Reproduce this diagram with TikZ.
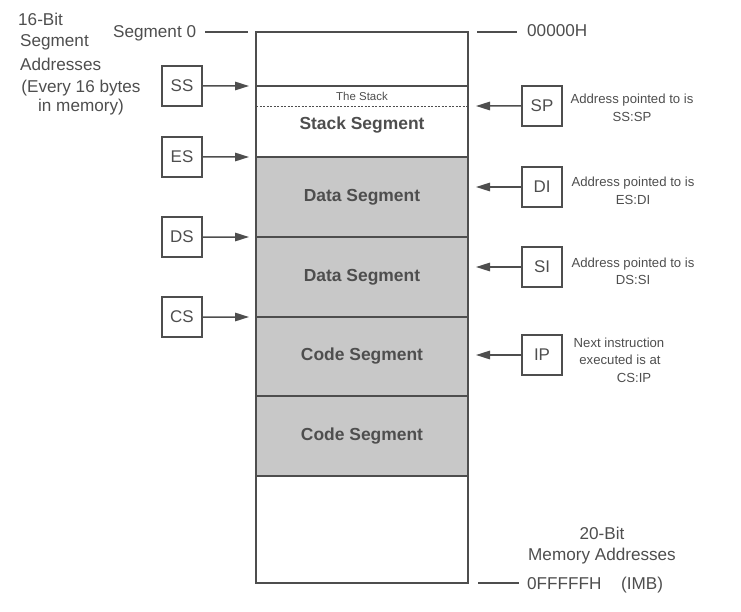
\documentclass[tikz,border=0pt]{standalone}
\usepackage{fontspec}
\setmainfont{Liberation Sans}
\usetikzlibrary{arrows.meta,calc}
\definecolor{ink}{RGB}{78,78,78}
\definecolor{segfill}{RGB}{200,200,200}
\begin{document}
\begin{tikzpicture}[x=1bp,y=-1bp,
  every node/.style={text=ink},
  seg/.style={draw=ink, line width=1.5bp, minimum width=212bp, inner sep=0pt, outer sep=0pt, font=\fontsize{17.5}{19}\selectfont\bfseries},
  gseg/.style={seg, fill=segfill},
  reg/.style={draw=ink, line width=1.4bp, minimum width=40bp, minimum height=40bp, inner sep=0pt, outer sep=0pt, font=\fontsize{17}{19}\selectfont},
  lbl/.style={inner sep=0pt, font=\fontsize{17.2}{19}\selectfont, anchor=base west},
  clbl/.style={inner sep=0pt, font=\fontsize{17.2}{19}\selectfont, anchor=base},
  note/.style={inner sep=0pt, font=\fontsize{13.2}{15}\selectfont, anchor=base},
  arr/.style={draw=ink, line width=1.5bp, -{Triangle[length=14bp,width=8.5bp]}},
  leader/.style={draw=ink, line width=1.3bp},
]
\useasboundingbox (0,0) rectangle (741,612);

% memory column
\node[seg, minimum height=54bp] (s0) at (362,59) {};
\node[inner sep=0pt, outer sep=0pt, minimum width=212bp, minimum height=20bp, font=\fontsize{11.5}{13}\selectfont] (stk) at (362,96) {The Stack};
\node[inner sep=0pt, outer sep=0pt, minimum width=212bp, minimum height=51bp] (sseg) at (362,131.5) {};
\node[inner sep=0pt, font=\fontsize{17.5}{19}\selectfont\bfseries] (ssegtxt) at (362,125) {Stack Segment};
\node[gseg, minimum height=80bp] (d1) at (362,197) {Data Segment};
\node[gseg, minimum height=80bp] (d2) at (362,277) {Data Segment};
\node[gseg, minimum height=79bp] (c1) at (362,356.5) {Code Segment};
\node[gseg, minimum height=80bp] (c2) at (362,436) {Code Segment};
\node[seg, minimum height=107bp] (s7) at (362,529.5) {};
\draw[ink, line width=1.5bp] (s0.south west) -- (d1.north west) (s0.south east) -- (d1.north east);
\draw[ink, line width=0.8bp, dash pattern=on 2bp off 1.5bp] (stk.south west) -- (stk.south east);

% segment registers
\node[reg] (SS) at (182,86) {SS};
\node[reg] (ES) at (182,157) {ES};
\node[reg] (DS) at (182,237) {DS};
\node[reg] (CS) at (182,317) {CS};
\draw[arr, shorten >=7bp] (SS) -- (stk.north west);
\draw[arr, shorten >=7bp] (ES) -- (d1.north west);
\draw[arr, shorten >=7bp] (DS) -- (d2.north west);
\draw[arr, shorten >=7bp] (CS) -- (c1.north west);

% offset registers
\node[reg] (SP) at (542,106) {SP};
\node[reg] (DI) at (542,187) {DI};
\node[reg] (SI) at (542,267) {SI};
\node[reg] (IP) at (542,355) {IP};
\draw[arr, shorten >=8bp] (SP) -- (stk.south east);
\draw[arr, shorten >=8bp] (DI) -- (DI -| d1.east);
\draw[arr, shorten >=8bp] (SI) -- (SI -| d2.east);
\draw[arr, shorten >=8bp] (IP) -- (IP -| c1.east);

% notes
\node[note] (spn1) at (632,104) {Address pointed to is};
\node[note] (spn2) at (632,122) {SS:SP};
\node[note] (din1) at (633,187) {Address pointed to is};
\node[note] (din2) at (633,205) {ES:DI};
\node[note] (sin1) at (633,267) {Address pointed to is};
\node[note] (sin2) at (633,284) {DS:SI};
\node[note] (ipn1) at (619,347) {Next instruction};
\node[note] (ipn2) at (620,364) {executed is at};
\node[note] (ipn3) at (634,382) {CS:IP};

% left heading
\node[lbl] (h1) at (18,26) {16-Bit};
\node[lbl] (h2) at (20,47) {Segment};
\node[lbl] (h3) at (20,71) {Addresses};
\node[clbl] (h4) at (81,93) {(Every 16 bytes};
\node[clbl] (h5) at (81,112) {in memory)};

% top addresses
\node[lbl] (seg0) at (113,38) {Segment 0};
\draw[leader, shorten <=9bp, shorten >=8bp] (seg0.east |- s0.north) -- (s0.north west);
\node[lbl] (top0) at (527,37) {00000H};
\draw[leader, shorten <=9bp, shorten >=10bp] (s0.north east) -- (s0.north east -| top0.west);

% bottom addresses
\node[clbl] (b1) at (602,539) {20-Bit};
\node[clbl] (b2) at (602,560) {Memory Addresses};
\node[lbl] (bot) at (527,589) {0FFFFFH};
\node[lbl] (imb) at (621,589) {(IMB)};
\draw[leader, shorten <=10bp, shorten >=8bp] (s7.south east) -- (s7.south east -| bot.west);
\end{tikzpicture}
\end{document}
